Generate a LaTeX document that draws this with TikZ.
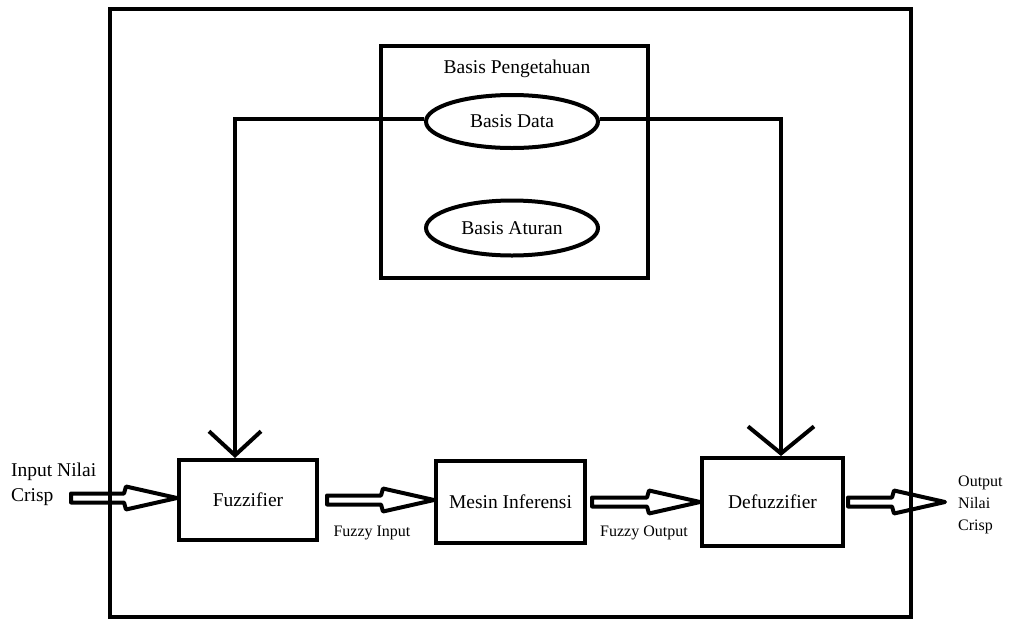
\documentclass[tikz,border=0pt]{standalone}
\usepackage{fontspec}
\setmainfont{Liberation Serif}
\usetikzlibrary{arrows.meta,calc,shapes.geometric}
\newcommand\bigtext{\fontsize{19.5}{25}\selectfont}
\newcommand\smalltext{\fontsize{16}{22}\selectfont}
% hollow block arrow from #1 to #2, kept level with #1
\newcommand\hollowarrow[2]{%
  \draw[hollow] let \p1=(#1), \p2=(#2) in
    (\x1,{\y1+4.5pt}) -- ({\x2-53pt},{\y1+4.5pt}) -- ({\x2-51pt},{\y1+11.5pt})
    -- (\x2,\y1) -- ({\x2-51pt},{\y1-11.5pt}) -- ({\x2-53pt},{\y1-4.5pt})
    -- (\x1,{\y1-4.5pt}) -- cycle;}
\begin{document}
\begin{tikzpicture}[x=1pt,y=-1pt,
  frame/.style={draw,line width=4pt},
  box/.style={draw,rectangle,line width=4pt,inner sep=0pt,font=\bigtext},
  oval/.style={draw,ellipse,line width=4pt,inner sep=0pt,font=\bigtext},
  link/.style={draw,line width=4pt},
  hollow/.style={draw,line width=4pt,line join=round},
  lbl/.style={inner sep=0pt,font=\smalltext,align=left}]
\useasboundingbox (0,0) rectangle (1017,619);

% outer system frame
\draw[frame] (110,9) rectangle (911,617);

% knowledge base
\node[box,minimum width=267pt,minimum height=232pt] (kb) at (514.5,162) {};
\node[inner sep=0pt,font=\bigtext] (kbt) at (517,69) {Basis Pengetahuan};
\node[oval,minimum width=172pt,minimum height=53pt] (bd) at (512,121.5) {Basis Data};
\node[oval,minimum width=172pt,minimum height=55pt] (ba) at (512,228) {Basis Aturan};

% processing blocks
\node[box,minimum width=138pt,minimum height=80pt] (fz) at (248,500) {Fuzzifier};
\node[box,minimum width=149pt,minimum height=82pt] (mi) at (510.5,502) {Mesin Inferensi};
\node[box,minimum width=141pt,minimum height=88pt] (df) at (772.5,502) {Defuzzifier};

% data base feeds both fuzzifier and defuzzifier
\draw[link,-{Straight Barb[length=24pt,width=52pt]}] ([yshift=2.5pt]bd.west) -| ([xshift=-13pt]fz.north);
\draw[link,-{Straight Barb[length=27pt,width=66pt]}] ([yshift=2.5pt]bd.east) -| ([xshift=8.5pt]df.north);

% crisp input / output
\coordinate (cin) at (71,498);
\coordinate (cout) at (945,502);
\node[inner sep=0pt,font=\bigtext,align=left,anchor=west] (inl) at (11,484) {Input Nilai\\Crisp};
\node[lbl,anchor=west] (outl) at (958,505) {Output\\Nilai\\Crisp};

% signal flow
\hollowarrow{cin}{fz.west}
\hollowarrow{[xshift=8pt]fz.east}{mi.west}
\hollowarrow{[xshift=5pt]mi.east}{df.west}
\hollowarrow{[xshift=3pt]df.east}{cout}
\node[lbl] (fil) at (372,533) {Fuzzy Input};
\node[lbl] (fol) at (644,533) {Fuzzy Output};
\end{tikzpicture}
\end{document}
